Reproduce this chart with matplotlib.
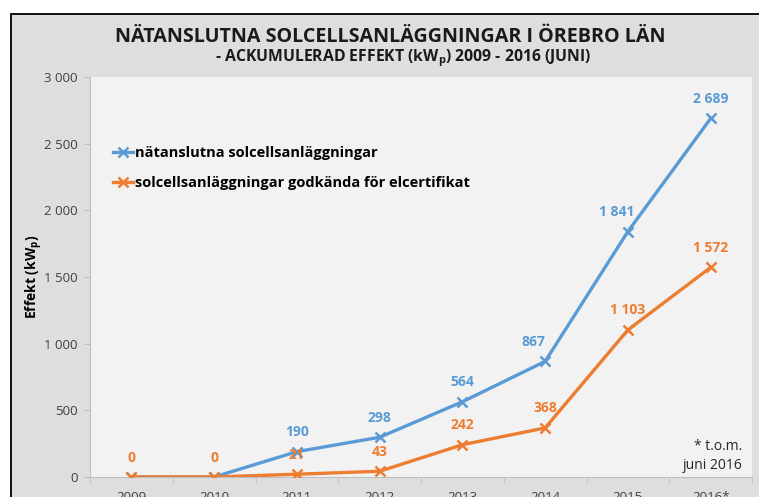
import matplotlib.pyplot as plt
from matplotlib.patches import Rectangle

plt.rcParams['font.family'] = ['Open Sans', 'DejaVu Sans']

# data
years = ['2009', '2010', '2011', '2012', '2013', '2014', '2015', '2016*']
natanslutna = [0, 0, 190, 298, 564, 867, 1841, 2689]
elcert = [0, 0, 21, 43, 242, 368, 1103, 1572]
yticks = [0, 500, 1000, 1500, 2000, 2500, 3000]

blue = '#5b9bd5'
orange = '#ed7d31'

def fmt(v):
    return '{:,}'.format(v).replace(',', ' ')

fig = plt.figure(figsize=(7.59, 4.97), dpi=100)
fig.patch.set_facecolor('white')

# grå ram runt diagrammet (går utanför bilden nedtill och till höger)
W, H = 759, 497
fig.patches.append(Rectangle((10.5 / W, -0.1), 1.2, (H - 13.5) / H + 0.1,
                             transform=fig.transFigure, facecolor='#dedede',
                             edgecolor='black', linewidth=1.3, zorder=-5))

ax = fig.add_axes([90 / W, 20 / H, 662 / W, 400 / H])
ax.set_facecolor('#f2f2f2')

x = list(range(len(years)))
ax.plot(x, natanslutna, color=blue, lw=2.4, marker='x', ms=7, mew=1.8,
        label='nätanslutna solcellsanläggningar', zorder=3)
ax.plot(x, elcert, color=orange, lw=2.4, marker='x', ms=7, mew=1.8,
        label='solcellsanläggningar godkända för elcertifikat', zorder=4)

# etiketter
blue_dx = {5: -0.14, 6: -0.13}
for i, v in enumerate(natanslutna):
    if i < 2:
        continue
    ax.annotate(fmt(v), (i + blue_dx.get(i, 0), v), xytext=(0, 9),
                textcoords='offset points', ha='center', va='bottom',
                color=blue, fontsize=10, fontweight='bold')
for i, v in enumerate(elcert):
    ax.annotate(fmt(v), (i, v), xytext=(0, 9),
                textcoords='offset points', ha='center', va='bottom',
                color=orange, fontsize=10, fontweight='bold')

ax.set_xlim(-0.5, len(years) - 0.5)
ax.set_ylim(0, 3000)
ax.set_yticks(yticks)
ax.set_yticklabels([fmt(v) for v in yticks])
ax.set_xticks(x)
ax.set_xticklabels(years)
ax.set_xticks([i + 0.5 for i in range(-1, len(years))], minor=True)
ax.tick_params(axis='x', which='major', length=0, pad=10, labelsize=9.5, colors='#404040')
ax.tick_params(axis='x', which='minor', length=4, color='#bfbfbf')
ax.tick_params(axis='y', length=4, color='#bfbfbf', labelsize=9.5, labelcolor='#404040', pad=5)
for s in ['top', 'right']:
    ax.spines[s].set_visible(False)
ax.spines['left'].set_color('#bfbfbf')
ax.spines['bottom'].set_color('#bfbfbf')

ax.set_ylabel('Effekt (kW$_\\mathregular{p}$)', fontsize=10, fontweight='bold')
ax.yaxis.set_label_coords(-0.068, 0.5)

leg = ax.legend(loc='upper left', bbox_to_anchor=(0.015, 0.86), frameon=False,
                handlelength=1.4, handletextpad=0.1, labelspacing=1.1,
                prop={'weight': 'bold', 'size': 10.5})

ax.text(0.985, 0.095, '* t.o.m.\njuni 2016', transform=ax.transAxes,
        ha='right', va='top', fontsize=10, color='#262626', linespacing=1.4,
        multialignment='right')

fig.text(390 / W, 1 - 37 / H, 'NÄTANSLUTNA SOLCELLSANLÄGGNINGAR I ÖREBRO LÄN',
         ha='center', va='center', fontsize=14.2, fontweight='bold', color='#1a1a1a')
fig.text(403 / W, 1 - 58 / H, '- ACKUMULERAD EFFEKT (kW$_\\mathregular{p}$) 2009 - 2016 (JUNI)',
         ha='center', va='center', fontsize=11.3, fontweight='bold', color='#1a1a1a')

fig.savefig('out.png', dpi=100)
